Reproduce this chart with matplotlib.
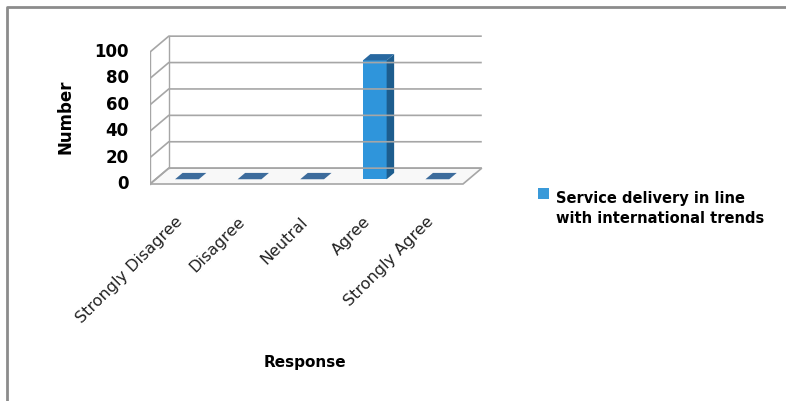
import matplotlib.pyplot as plt
from matplotlib.patches import Polygon, Rectangle
from matplotlib.lines import Line2D

categories = ['Strongly Disagree', 'Disagree', 'Neutral', 'Agree', 'Strongly Agree']
counts = [0, 0, 0, 90, 0]
y_ticks = [0, 20, 40, 60, 80, 100]
series_name = 'Service delivery in line\nwith international trends'

W, H = 786, 401
fig = plt.figure(figsize=(W / 100, H / 100), dpi=100)

# axes placed so that one category = ~62.6 px and one unit = 1.32 px
ax = fig.add_axes([150 / W, 1 - 190 / H, 350 / W, 160 / H])
ax.set_xlim(-0.5, -0.5 + 350 / 62.6)
ax.set_ylim(-6 / 1.32, 154 / 1.32)
ax.axis('off')

dx, dy = 0.3, 12          # fake 3d depth offset (data units)
grid = '#a6a6a6'
x0, x1 = -0.5, len(categories) - 0.5
top = y_ticks[-1]

# floor + walls
ax.add_patch(Polygon([(x0, 0), (x1, 0), (x1 + dx, dy), (x0 + dx, dy)],
                     closed=True, fc='#f8f8f8', ec=grid, lw=1.2))
ax.plot([x0, x0], [0, top], color=grid, lw=1)
ax.plot([x0 + dx, x0 + dx], [dy, top + dy], color=grid, lw=1)
for v in y_ticks:
    ax.plot([x0 - 0.12, x0, x0 + dx, x1 + dx], [v, v, v + dy, v + dy],
            color=grid, lw=1.2, solid_capstyle='butt')
    ax.text(x0 - 0.34, v, str(v), ha='right', va='center',
            fontsize=12, fontweight='bold')

# bars
bw = 0.38
f0, f1 = 0.3, 0.7
ddx, ddy = (f1 - f0) * dx, (f1 - f0) * dy
xs = [i + f0 * dx for i in range(len(categories))]
ax.bar(xs, counts, width=bw, bottom=f0 * dy, color='#2f95db', lw=0)
for xc, v in zip(xs, counts):
    xl, xr = xc - bw / 2, xc + bw / 2
    yb = f0 * dy
    if v > 0:
        ax.add_patch(Polygon([(xr, yb), (xr + ddx, yb + ddy), (xr + ddx, yb + v + ddy), (xr, yb + v)],
                             closed=True, fc='#1d5d8e', lw=0))
        tc = '#2868a0'
    else:
        tc = '#3d6c9c'
    ax.add_patch(Polygon([(xl, yb + v), (xr, yb + v), (xr + ddx, yb + v + ddy), (xl + ddx, yb + v + ddy)],
                         closed=True, fc=tc, lw=0))

# category labels
for i, c in enumerate(categories):
    ax.text(i - 0.1, -23, c, rotation=45, ha='right', va='top', rotation_mode='anchor',
            fontsize=11.5, color='#222222')

fig.text(65 / W, 1 - 117 / H, 'Number', rotation=90, ha='center', va='center',
         fontsize=12, fontweight='bold')
fig.text(305 / W, 1 - 363 / H, 'Response', ha='center', va='center',
         fontsize=11, fontweight='bold')

# legend
fig.patches.append(Rectangle((538 / W, 1 - 199 / H), 11 / W, 11 / H,
                             transform=fig.transFigure, fc='#3a9ad9', ec='none'))
fig.text(556 / W, 1 - 191 / H, series_name, ha='left', va='top', fontsize=10.5,
         fontweight='bold', linespacing=1.4, transform=fig.transFigure)

# chart border (top and left only visible)
fig.add_artist(Line2D([7 / W, 7 / W, 1], [0, 1 - 7 / H, 1 - 7 / H],
                      transform=fig.transFigure, color='#8c8c8c', lw=2))

fig.savefig('out.png', dpi=100)
